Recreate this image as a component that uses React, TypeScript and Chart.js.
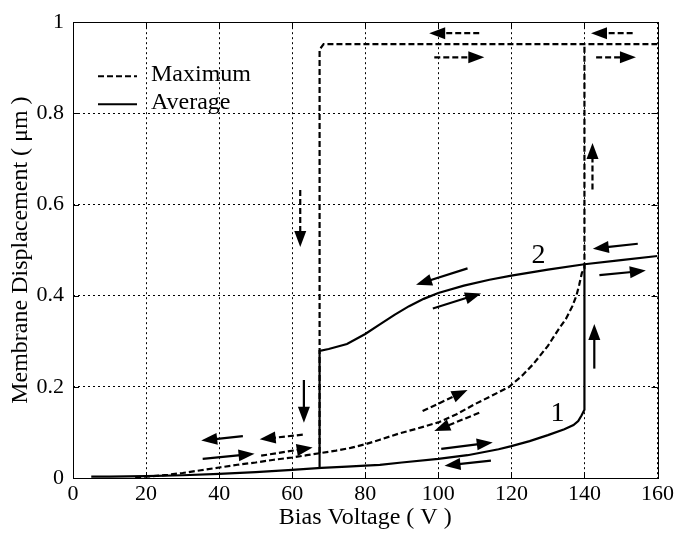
import React, { useEffect, useRef } from "react";
import { Chart, registerables } from "chart.js";

Chart.register(...registerables);

// ---- Data ----
const xTickValues = [0, 20, 40, 60, 80, 100, 120, 140, 160];
const yTickValues = [0, 0.2, 0.4, 0.6, 0.8, 1];

const xTitle = "Bias Voltage ( V )";
const yTitle = "Membrane Displacement ( μm )";
const legendLabels = ["Maximum", "Average"];

// Maximum (dashed) – increasing-voltage branch
const maxLowerV = [17, 22, 26, 30, 35, 40, 45, 50, 55, 60, 64, 68, 72, 76, 80, 84, 89, 94, 100, 105, 110, 115, 119.4, 123, 126, 130, 133, 135, 136.7, 137.8, 138.6, 139.3, 140, 140];
const maxLowerD = [0.002, 0.004, 0.007, 0.011, 0.017, 0.023, 0.029, 0.034, 0.04, 0.045, 0.05, 0.055, 0.06, 0.066, 0.074, 0.084, 0.097, 0.108, 0.122, 0.14, 0.162, 0.182, 0.2, 0.225, 0.25, 0.29, 0.327, 0.35, 0.377, 0.4, 0.425, 0.45, 0.46, 0.952];
// Maximum (dashed) – upper branch after pull-in
const maxUpperV = [67.5, 67.5, 68.6, 100, 140, 160];
const maxUpperD = [0.055, 0.94, 0.952, 0.952, 0.952, 0.952];

// Average (solid) – lower branch (curve 1)
const avgLowerV = [5, 10, 20, 30, 40, 50, 60, 68, 75, 80, 84, 90, 100, 108, 116.5, 120, 125, 130, 134.5, 137, 138.3, 139.2, 140, 140];
const avgLowerD = [0.003, 0.003, 0.004, 0.006, 0.009, 0.013, 0.018, 0.022, 0.025, 0.027, 0.029, 0.034, 0.042, 0.05, 0.063, 0.07, 0.081, 0.094, 0.107, 0.116, 0.125, 0.137, 0.15, 0.469];
// Average (solid) – upper branch (curve 2)
const avgUpperV = [67.5, 67.5, 70, 75, 80, 84, 88, 92, 96, 100, 107, 114, 120, 130, 140, 150, 160];
const avgUpperD = [0.022, 0.279, 0.283, 0.294, 0.316, 0.337, 0.358, 0.377, 0.393, 0.406, 0.422, 0.435, 0.444, 0.457, 0.469, 0.478, 0.487];

// Arrows: tail (x1,y1) -> head (x2,y2)
const dashedArrowX1 = [111.2, 153.2, 98.9, 143.2, 142.2, 62.2, 95.7, 111.2, 62.9, 51.5];
const dashedArrowY1 = [0.976, 0.976, 0.923, 0.923, 0.633, 0.632, 0.147, 0.143, 0.095, 0.049];
const dashedArrowX2 = [97.5, 141.8, 112.6, 154.1, 142.2, 62.2, 108, 98.9, 51.1, 65.6];
const dashedArrowY2 = [0.976, 0.976, 0.923, 0.923, 0.735, 0.507, 0.193, 0.103, 0.085, 0.067];

const solidArrowX1 = [63.2, 142.7, 154.6, 144.1, 108, 98.5, 100.8, 114.4, 46.5, 35.5];
const solidArrowY1 = [0.215, 0.24, 0.514, 0.445, 0.46, 0.372, 0.064, 0.038, 0.092, 0.042];
const solidArrowX2 = [63.2, 142.7, 142.3, 156.8, 93.9, 111.7, 114.9, 101.7, 35.1, 49.7];
const solidArrowY2 = [0.121, 0.338, 0.503, 0.455, 0.424, 0.405, 0.078, 0.027, 0.082, 0.053];

const curveLabels = ["1", "2"];
const curveLabelV = [132.6, 127.4];
const curveLabelD = [0.144, 0.489];

const FONT = "'Liberation Serif', 'Times New Roman', serif";
const DASH = [6, 3];

const pts = (xs: number[], ys: number[]) => xs.map((x, i) => ({ x, y: ys[i] }));

const overlayPlugin = {
  id: "overlay",
  afterDatasetsDraw(chart: any) {
    const { ctx, chartArea, scales } = chart;
    const sx = scales.x;
    const sy = scales.y;
    ctx.save();
    ctx.strokeStyle = "#000";
    ctx.fillStyle = "#000";

    const drawArrow = (x1: number, y1: number, x2: number, y2: number, dashed: boolean) => {
      const px1 = sx.getPixelForValue(x1);
      const py1 = sy.getPixelForValue(y1);
      const px2 = sx.getPixelForValue(x2);
      const py2 = sy.getPixelForValue(y2);
      const dx = px2 - px1;
      const dy = py2 - py1;
      const len = Math.hypot(dx, dy);
      const ux = dx / len;
      const uy = dy / len;
      const headLen = 16;
      const headHalf = 6;
      const bx = px2 - ux * headLen;
      const by = py2 - uy * headLen;
      ctx.lineWidth = 2.2;
      ctx.setLineDash(dashed ? DASH : []);
      ctx.beginPath();
      ctx.moveTo(px1, py1);
      ctx.lineTo(bx + ux * 2, by + uy * 2);
      ctx.stroke();
      ctx.setLineDash([]);
      ctx.beginPath();
      ctx.moveTo(px2, py2);
      ctx.lineTo(bx - uy * headHalf, by + ux * headHalf);
      ctx.lineTo(bx + uy * headHalf, by - ux * headHalf);
      ctx.closePath();
      ctx.fill();
    };
    dashedArrowX1.forEach((_, i) => drawArrow(dashedArrowX1[i], dashedArrowY1[i], dashedArrowX2[i], dashedArrowY2[i], true));
    solidArrowX1.forEach((_, i) => drawArrow(solidArrowX1[i], solidArrowY1[i], solidArrowX2[i], solidArrowY2[i], false));

    // curve labels
    ctx.font = `28px ${FONT}`;
    ctx.textAlign = "center";
    ctx.textBaseline = "middle";
    curveLabels.forEach((t, i) => {
      ctx.fillText(t, sx.getPixelForValue(curveLabelV[i]), sy.getPixelForValue(curveLabelD[i]) + 1);
    });

    // legend
    const lx0 = chartArea.left + 25;
    const lx1 = chartArea.left + 64;
    const tx = chartArea.left + 78;
    const rows = [chartArea.top + 54, chartArea.top + 82];
    ctx.lineWidth = 2;
    ctx.font = `24px ${FONT}`;
    ctx.textAlign = "left";
    ctx.textBaseline = "alphabetic";
    legendLabels.forEach((t, i) => {
      ctx.setLineDash(i === 0 ? DASH : []);
      ctx.beginPath();
      ctx.moveTo(lx0, rows[i]);
      ctx.lineTo(lx1, rows[i]);
      ctx.stroke();
      ctx.setLineDash([]);
      ctx.fillText(t, tx, rows[i] + 5);
    });

    // frame + inward ticks
    ctx.setLineDash([]);
    ctx.lineWidth = 1;
    const { left, right, top, bottom } = chartArea;
    ctx.strokeRect(Math.round(left) + 0.5, Math.round(top) + 0.5, Math.round(right - left), Math.round(bottom - top));
    const tl = 6;
    ctx.beginPath();
    xTickValues.forEach((v) => {
      const p = Math.round(sx.getPixelForValue(v)) + 0.5;
      ctx.moveTo(p, bottom);
      ctx.lineTo(p, bottom - tl);
      ctx.moveTo(p, top);
      ctx.lineTo(p, top + tl);
    });
    yTickValues.forEach((v) => {
      const p = Math.round(sy.getPixelForValue(v)) + 0.5;
      ctx.moveTo(left, p);
      ctx.lineTo(left + tl, p);
      ctx.moveTo(right, p);
      ctx.lineTo(right - tl, p);
    });
    ctx.stroke();
    ctx.restore();
  },
};

export default function App() {
  const canvasRef = useRef<HTMLCanvasElement | null>(null);

  useEffect(() => {
    if (!canvasRef.current) return;
    Chart.defaults.color = "#000";
    Chart.defaults.font.family = FONT;
    const lineBase = {
      borderColor: "#000",
      backgroundColor: "#000",
      borderWidth: 2.2,
      pointRadius: 0,
      tension: 0,
      fill: false,
    };
    const chart = new Chart(canvasRef.current, {
      type: "line",
      data: {
        datasets: [
          { ...lineBase, label: legendLabels[0], data: pts(maxLowerV, maxLowerD), borderDash: DASH },
          { ...lineBase, label: legendLabels[0] + " (upper)", data: pts(maxUpperV, maxUpperD), borderDash: DASH },
          { ...lineBase, label: legendLabels[1], data: pts(avgLowerV, avgLowerD) },
          { ...lineBase, label: legendLabels[1] + " (upper)", data: pts(avgUpperV, avgUpperD) },
        ],
      },
      options: {
        animation: false,
        responsive: false,
        layout: { padding: { left: 0, right: 19, top: 16, bottom: 0 } },
        plugins: { legend: { display: false }, tooltip: { enabled: false } },
        scales: {
          x: {
            type: "linear",
            min: 0,
            max: 160,
            afterFit: (s: any) => { s.height = 56; },
            afterBuildTicks: (s: any) => { s.ticks = xTickValues.map((v) => ({ value: v })); },
            ticks: { font: { size: 22, family: FONT }, color: "#000", padding: 3, maxRotation: 0, autoSkip: false },
            grid: { color: "#000", lineWidth: 1, drawTicks: false },
            border: { display: false, dash: [2, 3] },
            title: { display: true, text: xTitle, color: "#000", font: { size: 24, family: FONT }, padding: { top: 0, bottom: 2 } },
          },
          y: {
            type: "linear",
            min: 0,
            max: 1,
            afterFit: (s: any) => { s.width = 73; },
            afterBuildTicks: (s: any) => { s.ticks = yTickValues.map((v) => ({ value: v })); },
            ticks: { font: { size: 22, family: FONT }, color: "#000", padding: 9, autoSkip: false, callback: (v: any) => String(Math.round(Number(v) * 10) / 10) },
            grid: { color: "#000", lineWidth: 1, drawTicks: false },
            border: { display: false, dash: [2, 3] },
            title: { display: true, text: yTitle, color: "#000", font: { size: 24, family: FONT }, padding: { top: 6, bottom: 0 } },
          },
        },
      },
      plugins: [overlayPlugin],
    } as any);
    return () => chart.destroy();
  }, []);

  return (
    <div style={{ position: "absolute", left: 0, top: 0, width: 677, height: 534, background: "#fff" }}>
      <canvas ref={canvasRef} width={677} height={534} style={{ display: "block" }} />
    </div>
  );
}
